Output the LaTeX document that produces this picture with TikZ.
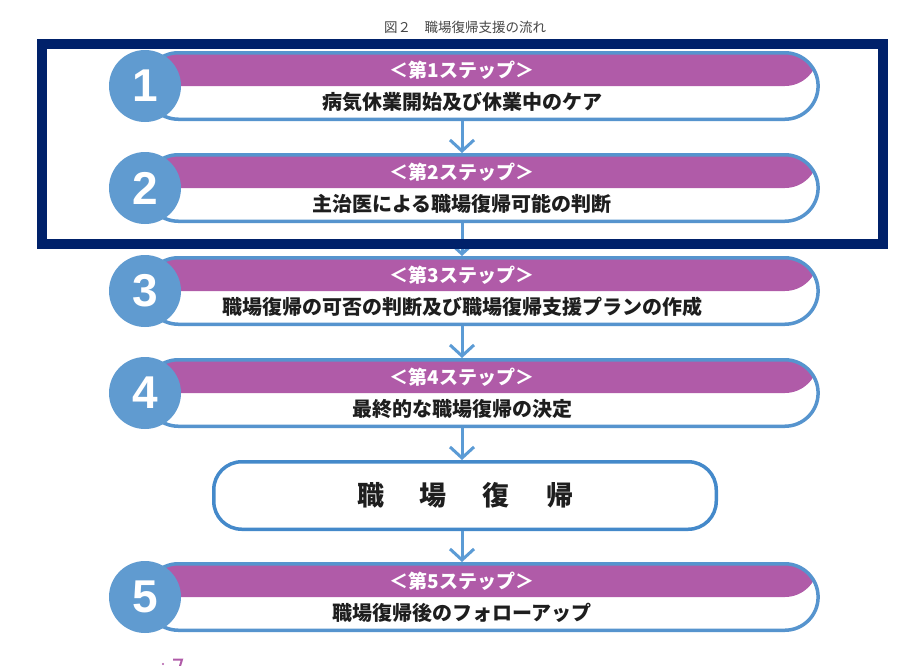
\documentclass[tikz,border=0pt]{standalone}
\usepackage{fontspec}
\setmainfont{Noto Sans CJK JP}
\newfontfamily\numfont{Liberation Sans}
\usetikzlibrary{arrows.meta,calc}
\definecolor{navy}{RGB}{0,33,106}
\definecolor{steppurple}{RGB}{176,91,168}
\definecolor{circblue}{RGB}{96,155,208}
\definecolor{capblue}{RGB}{86,148,206}
\definecolor{retblue}{RGB}{68,137,202}
\definecolor{arrblue}{RGB}{91,155,213}
\definecolor{txtdark}{RGB}{30,30,30}
\definecolor{titlegray}{RGB}{70,70,70}
\tikzset{
  capsule/.style={draw=capblue, line width=3.5pt, fill=white, rectangle,
    rounded corners=33.25pt, minimum width=673pt, minimum height=66.5pt, inner sep=0pt,
    path picture={\fill[steppurple] (path picture bounding box.north west) rectangle (path picture bounding box.east);}},
  numcirc/.style={circle, fill=circblue, minimum size=72pt, inner sep=0pt, text=white,
    font=\numfont\bfseries\fontsize{46pt}{46pt}\selectfont},
  steplabel/.style={text=white, inner sep=0pt, font=\bfseries\fontsize{19pt}{19pt}\selectfont},
  stepdesc/.style={text=txtdark, inner sep=0pt, font=\bfseries\fontsize{20pt}{20pt}\selectfont},
  retbox/.style={draw=retblue, line width=3.5pt, fill=white, rectangle, rounded corners=28pt,
    minimum width=502.5pt, minimum height=67.5pt, inner sep=0pt, text=txtdark,
    font=\bfseries\fontsize{27pt}{27pt}\selectfont},
  arr/.style={draw=arrblue, line width=3pt, -{Straight Barb[length=11pt,width=24pt]}},
  titletext/.style={text=titlegray, inner sep=0pt, font=\fontsize{13.5pt}{13.5pt}\selectfont}
}
\begin{document}
\begin{tikzpicture}[x=1pt,y=-1pt]
\useasboundingbox[fill=white] (0,0) rectangle (924,665);
\node[titletext] (title) at (465,27) {図２　職場復帰支援の流れ};
% steps
\foreach \n/\c/\desc in {1/86/病気休業開始及び休業中のケア,
                         2/188/主治医による職場復帰可能の判断,
                         3/291/職場復帰の可否の判断及び職場復帰支援プランの作成,
                         4/393/最終的な職場復帰の決定,
                         5/597/職場復帰後のフォローアップ}{
  \node[capsule] (s\n) at (481.6,\c) {};
  \node[numcirc] (c\n) at (145,\c) {\n};
  \node[steplabel] (l\n) at (462,\c-16) {＜第\n ステップ＞};
  \node[stepdesc] (d\n) at (462,\c+16) {\desc};
}
\node[retbox] (ret) at (465,495.5) {職\hspace{36pt}場\hspace{36pt}復\hspace{36pt}帰};
% connectors
\draw[arr] (s1.south -| l1) -- (s2.north -| l1);
\draw[arr] (s2.south -| l2) -- (s3.north -| l2);
\draw[arr] (s3.south -| l3) -- (s4.north -| l3);
\draw[arr] (s4.south -| l4) -- (ret.north -| l4);
\draw[arr] (ret.south -| l5) -- (s5.north -| l5);
% frame
\draw[navy, line width=10pt] (42,44) rectangle (883,244);
% cut-off fragment at bottom
\draw[steppurple, line width=2pt] (173,659.5) -- (182,659.5) -- (180,666);
\fill[steppurple] (163,664) circle (1.2pt);
\end{tikzpicture}
\end{document}
